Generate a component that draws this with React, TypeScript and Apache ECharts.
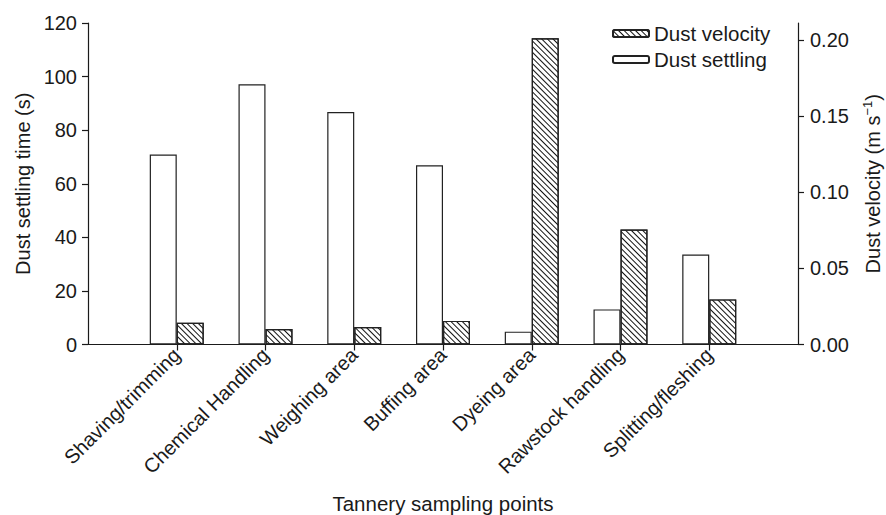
import React, { useEffect, useRef } from "react";
import * as echarts from "echarts";

const categories = [
  "Shaving/trimming",
  "Chemical Handling",
  "Weighing area",
  "Buffing area",
  "Dyeing area",
  "Rawstock handling",
  "Splitting/fleshing",
];
const settlingTime = [70.9, 97.1, 86.8, 66.9, 4.8, 13.1, 33.6];
const dustVelocity = [0.0143, 0.0102, 0.0115, 0.0155, 0.201, 0.0755, 0.0296];
const rightTicks = [0, 0.05, 0.1, 0.15, 0.2];

const FONT = "Liberation Sans, Arial, sans-serif";
const INK = "#1a1a1a";

export default function App() {
  const ref = useRef<HTMLDivElement>(null);
  useEffect(() => {
    if (!ref.current) return;
    const chart = echarts.init(ref.current, null, { renderer: "svg" });
    const axisCats = ["", ...categories, ""];
    const settlingData = [null, ...settlingTime, null];
    const velocityData = [null, ...dustVelocity, null];
    chart.setOption({
      animation: false,
      backgroundColor: "#fff",
      textStyle: { fontFamily: FONT, color: INK },
      grid: {
        left: 88,
        right: 88,
        top: 23,
        bottom: 170.5,
        containLabel: false,
        outerBoundsMode: "none",
      },
      legend: {
        orient: "vertical",
        left: 612,
        top: 23,
        padding: 0,
        itemWidth: 36,
        itemHeight: 7,
        itemGap: 5,
        data: ["Dust velocity", "Dust settling"],
        textStyle: { fontFamily: FONT, fontSize: 20.5, color: INK },
      },
      xAxis: {
        type: "category",
        data: axisCats,
        boundaryGap: false,
        axisLine: { lineStyle: { color: INK, width: 1.2 } },
        axisTick: {
          show: true,
          length: 6,
          interval: (i: number) => i > 0 && i < axisCats.length - 1,
          lineStyle: { color: INK, width: 1.2 },
        },
        axisLabel: {
          interval: 0,
          rotate: 45,
          margin: 7,
          fontFamily: FONT,
          fontSize: 20,
          color: INK,
        },
        splitLine: { show: false },
        name: "Tannery sampling points",
        nameLocation: "middle",
        nameGap: 148,
        nameTextStyle: { fontFamily: FONT, fontSize: 20.5, color: INK },
      },
      yAxis: [
        {
          type: "value",
          min: 0,
          max: 120,
          interval: 20,
          position: "left",
          axisLine: { show: true, lineStyle: { color: INK, width: 1.2 } },
          axisTick: { show: true, length: 6, lineStyle: { color: INK, width: 1.2 } },
          axisLabel: { margin: 11, fontFamily: FONT, fontSize: 20, color: INK },
          splitLine: { show: false },
          name: "Dust settling time (s)",
          nameLocation: "middle",
          nameRotate: 90,
          nameGap: 55,
          nameTextStyle: { fontFamily: FONT, fontSize: 20, color: INK },
        },
        {
          type: "value",
          min: 0,
          max: 0.211,
          position: "right",
          axisLine: { show: true, lineStyle: { color: INK, width: 1.2 } },
          axisTick: {
            show: true,
            length: 6,
            customValues: rightTicks,
            lineStyle: { color: INK, width: 1.2 },
          },
          axisLabel: {
            margin: 12,
            customValues: rightTicks,
            formatter: (v: number) => v.toFixed(2),
            fontFamily: FONT,
            fontSize: 20,
            color: INK,
          },
          splitLine: { show: false },
          name: "{a|Dust velocity (m s}{sup|−1}{a|)}",
          nameLocation: "middle",
          nameRotate: 90,
          nameGap: 63,
          nameTextStyle: {
            fontFamily: FONT,
            fontSize: 20,
            color: INK,
            rich: {
              a: { fontFamily: FONT, fontSize: 20, color: INK },
              sup: {
                fontFamily: FONT,
                fontSize: 13,
                color: INK,
                verticalAlign: "top",
                padding: [0, 0, 10, 0],
              },
            },
          },
        },
      ],
      series: [
        {
          name: "Dust settling",
          type: "bar",
          xAxisIndex: 0,
          yAxisIndex: 0,
          data: settlingData,
          barWidth: 27,
          barGap: "0%",
          itemStyle: { color: "#ffffff", borderColor: "#222", borderWidth: 1.2 },
        },
        {
          name: "Dust velocity",
          type: "bar",
          xAxisIndex: 0,
          yAxisIndex: 1,
          data: velocityData,
          barWidth: 27,
          barGap: "0%",
          itemStyle: {
            color: "#ffffff",
            borderColor: "#222",
            borderWidth: 1.2,
            decal: {
              symbol: "rect",
              symbolSize: 1,
              color: "#111",
              backgroundColor: "#fff",
              dashArrayX: [[1, 0]],
              dashArrayY: [1, 2.3],
              rotation: Math.PI / 4,
            },
          },
        },
      ],
    });
    return () => chart.dispose();
  }, []);
  return (
    <div
      ref={ref}
      style={{ position: "fixed", left: 0, top: 0, width: 886, height: 515, background: "#fff" }}
    />
  );
}
